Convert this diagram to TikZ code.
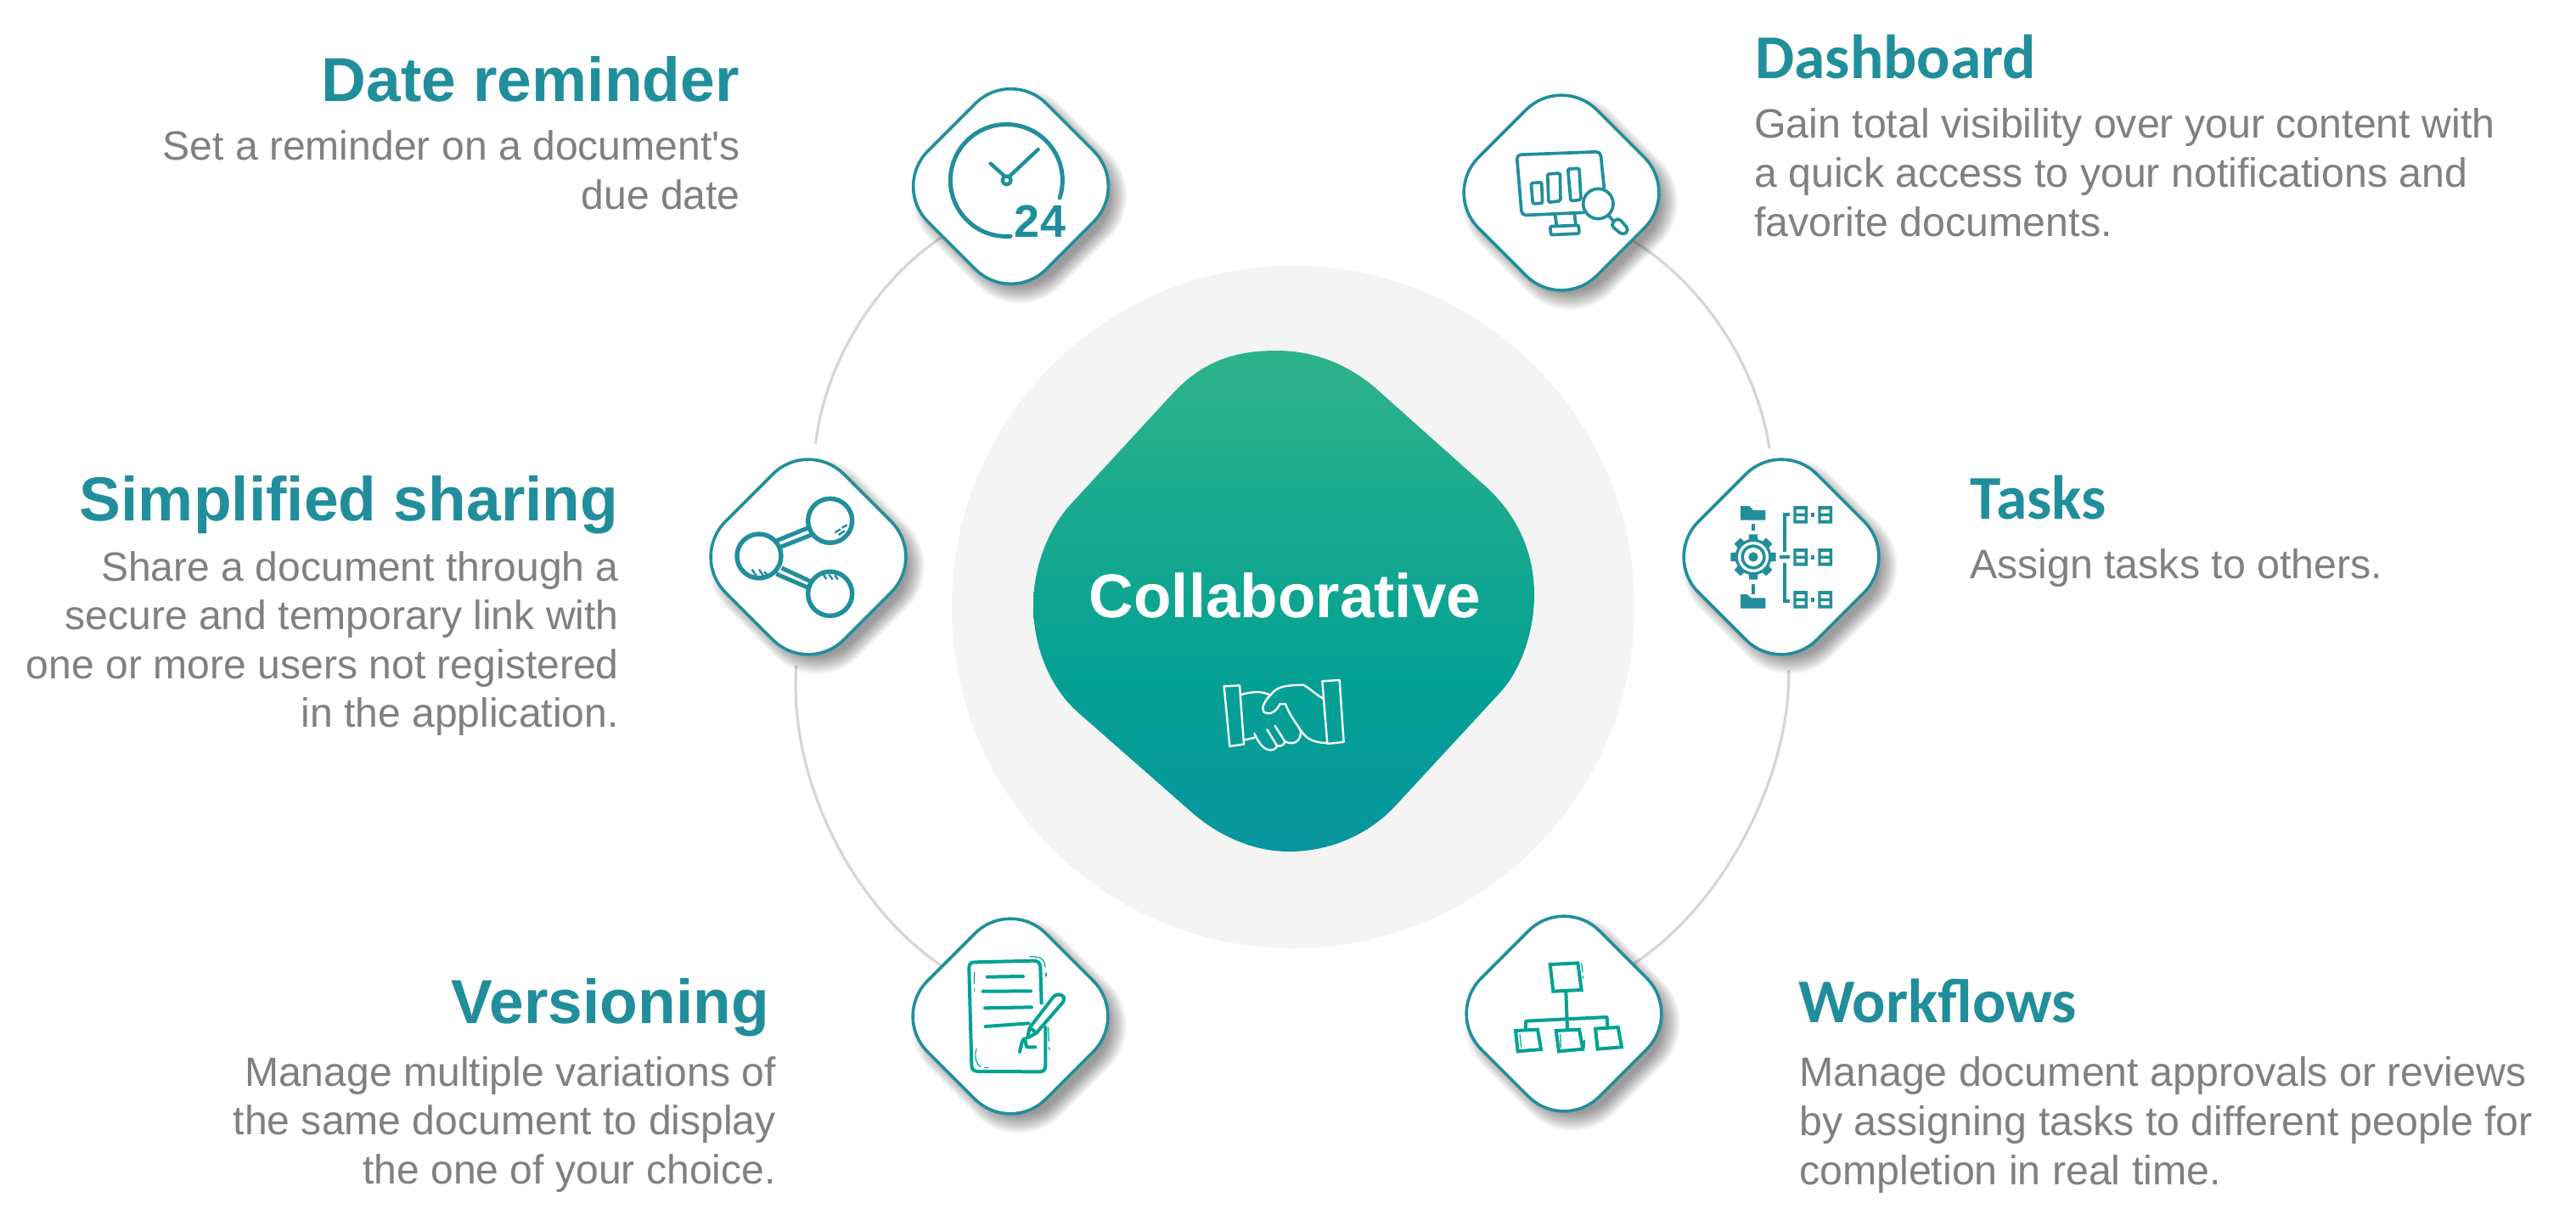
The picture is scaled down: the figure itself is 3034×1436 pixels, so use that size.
\documentclass[tikz,border=0pt]{standalone}
\usepackage{fontspec}
\setmainfont{Liberation Sans}
\newfontfamily\rawsans{Liberation Sans}
\newfontfamily\titlefont{Carlito}
\usetikzlibrary{calc}
\definecolor{teal1}{HTML}{218E9C}
\definecolor{teal2}{HTML}{00A294}
\definecolor{bodygray}{HTML}{808080}
\definecolor{ringgray}{HTML}{D6D6D6}
\definecolor{discgray}{HTML}{F4F4F4}
\definecolor{ctop}{RGB}{46,179,137}
\definecolor{cmid}{RGB}{5,161,148}
\definecolor{cbot}{RGB}{7,150,158}
\pgfdeclareverticalshading{collabshade}{100bp}{color(0bp)=(cbot);color(25bp)=(cbot);color(43bp)=(cmid);color(75bp)=(ctop);color(100bp)=(ctop)}
\pgfdeclarelayer{bg}
\pgfsetlayers{bg,main}
\tikzset{
  x=1pt,y=-1pt,
  diamondbox/.style={draw=teal1,line width=3.6pt,fill=white,shape=rectangle,rotate=45,minimum size=197pt,rounded corners=59pt,inner sep=0pt},
  shadowlayer/.style={fill=black,fill opacity=0.022,draw=none,rotate=45,shape=rectangle,inner sep=0pt},
  ring/.style={draw=ringgray,line width=3.2pt},
  titleleft/.style={text=teal1,inner sep=0pt,anchor=base east,font=\bfseries\fontsize{73.2}{80}\selectfont},
  titleright/.style={text=teal1,inner sep=0pt,anchor=base west,font=\titlefont\bfseries\fontsize{73.4}{80}\selectfont},
  bodyleft/.style={text=bodygray,inner sep=0pt,align=right,anchor=north east,font=\rawsans\fontsize{48.1}{57.6}\selectfont},
  bodyright/.style={text=bodygray,inner sep=0pt,align=left,anchor=north west,font=\rawsans\fontsize{48.3}{58}\selectfont},
  iconA/.style={draw=teal1,line width=5pt,line cap=round,line join=round},
  iconB/.style={draw=teal1,line width=3.7pt,line cap=round,line join=round},
  iconC/.style={draw=teal2,line width=4pt,line cap=round,line join=round},
  iconthin/.style={draw=teal2,line width=1.2pt,line cap=round},
  hand/.style={draw=white,line width=2.4pt,line join=round,line cap=round},
}
\newcommand{\softshadow}[2]{%
  \foreach \s in {0,2,...,36}{
    \node[shadowlayer,minimum size={221pt-\s pt},rounded corners={70pt-\s*0.3pt}] at (#1+10,#2+11) {};
  }
}
\begin{document}
\begin{tikzpicture}
\useasboundingbox (0,0) rectangle (3034,1436);

% central disc
\node[circle,fill=discgray,minimum size=804pt,inner sep=0pt] (disc) at (1523,715) {};

% soft shadows
\softshadow{1190.5}{219.5}
\softshadow{1839}{227}
\softshadow{2098}{656}
\softshadow{952}{656}
\softshadow{1190}{1197}
\softshadow{1842}{1194}

% diamonds
\node[diamondbox] (date) at (1190.5,219.5) {};
\node[diamondbox] (dash) at (1839,227) {};
\node[diamondbox] (tasks) at (2098,656) {};
\node[diamondbox] (share) at (952,656) {};
\node[diamondbox] (vers) at (1190,1197) {};
\node[diamondbox] (work) at (1842,1194) {};

% connectors (behind)
\begin{pgfonlayer}{bg}
\fill[white] (0,0) rectangle (3034,1436);
\draw[ring] (date) to[bend right=25,looseness=.85] (share);
\draw[ring] (share) to[bend right=30,looseness=.85] (vers);
\draw[ring] (dash) to[bend left=25,looseness=.85] (tasks);
\draw[ring] (tasks) to[bend left=29,looseness=.82] (work);
\end{pgfonlayer}

% central rounded diamond
\path[shading=collabshade] (1379.6,465.2)
  .. controls (1418,423) and (1458,413) .. (1504,413)
  .. controls (1550,413) and (1590,431) .. (1620.4,457.3)
  -- (1751,574)
  .. controls (1790,610) and (1807,655) .. (1807,700.5)
  .. controls (1807,745) and (1791,789) .. (1767.3,815.2)
  -- (1644.9,947.6)
  .. controls (1612,984) and (1565,1003) .. (1518.4,1003)
  .. controls (1472,1003) and (1430,981) .. (1400,953.6)
  -- (1269.4,838.9)
  .. controls (1235,808) and (1217,760) .. (1217,712.4)
  .. controls (1217,668) and (1235,622) .. (1261.2,593.8)
  -- cycle;
\node[text=white,inner sep=0pt,anchor=base,font=\bfseries\fontsize{72.8}{80}\selectfont] (collab) at (1513.5,727.5) {Collaborative};

% handshake
\begin{scope}[shift={(1400,770)},scale=1/3]
\draw[hand] (125,115) -- (180,112) -- (195,320) -- (145,327) -- cycle;
\draw[hand] (472,97) -- (533,93) -- (548,312) -- (490,318) -- cycle;
\draw[hand] (475,158) .. controls (450,145) and (425,120) .. (405,110) .. controls (350,112) and (315,112) .. (290,145) .. controls (270,165) and (255,190) .. (265,205) .. controls (285,220) and (310,205) .. (322,178) -- (342,177) .. controls (355,215) and (380,245) .. (395,270) .. controls (415,295) and (425,312) .. (490,316);
\draw[hand] (183,145) .. controls (220,135) and (255,130) .. (285,145);
\draw[hand] (195,305) -- (232,297);
\draw[hand] (232,282) .. controls (245,310) and (265,345) .. (295,340) .. controls (310,335) and (312,330) .. (312,325) -- (277,268);
\draw[hand] (312,325) .. controls (325,330) and (340,320) .. (340,310) -- (305,255);
\draw[hand] (340,310) .. controls (370,325) and (400,310) .. (395,270);
\end{scope}

% Clock icon
\begin{scope}[shift={(1040,80)},scale=1/3]
\draw[iconA] (450,595) arc[start angle=86,end angle=378,radius=198];
\draw[iconA,line width=4.4pt] (427,380) -- (380,338);
\draw[iconA,line width=4.4pt] (448,382) -- (548,288);
\draw[iconA,line width=4.4pt,fill=white] (437,397) circle[radius=15];
\node[text=teal1,inner sep=0pt,anchor=center,font=\fontsize{54}{60}\selectfont\bfseries] (clocknum) at (555,541) {24};
\end{scope}

% Dashboard icon
\begin{scope}[shift={(1700,90)},scale=1/3]
\draw[iconB,rounded corners=5pt] (495,481) -- (277,491) -- (259,277) -- (555,266) -- (568,395);
\draw[iconB,rounded corners=2pt] (310,377) -- (347,374) -- (350,448) -- (316,450) -- cycle;
\draw[iconB,rounded corners=2pt] (368,345) -- (412,342) -- (414,440) -- (372,445) -- cycle;
\draw[iconB,rounded corners=2pt] (440,327) -- (480,325) -- (486,436) -- (450,440) -- cycle;
\draw[iconB] (395,492) -- (400,527);
\draw[iconB] (463,485) -- (468,525);
\draw[iconB,rounded corners=2pt] (377,530) -- (478,526) -- (480,555) -- (380,560) -- cycle;
\draw[iconB] (547,450) circle[radius=53];
\draw[iconB] (584,492) -- (603,513);
\draw[iconB,rounded corners=5pt] (590,525) -- (617,498) -- (657,543) -- (635,562) -- cycle;
\end{scope}

% Tasks icon
\begin{scope}[shift={(1960,520)},scale=1/3]
\fill[teal1] (270,228) -- (300,228) -- (315,243) -- (358,243) -- (358,278) -- (270,278) -- cycle;
\fill[teal1] (270,540) -- (292,540) -- (308,553) -- (358,553) -- (358,590) -- (270,590) -- cycle;
\fill[teal1] (308,290) rectangle (321,315);
\fill[teal1] (308,503) rectangle (321,540);
\foreach \a in {0,45,...,315}{
  \fill[teal1,rotate around={\a:(315,408)}] (300,328) -- (330,328) -- (333,380) -- (297,380) -- cycle;
}
\fill[teal1] (315,408) circle[radius=64];
\fill[white] (315,408) circle[radius=54];
\fill[teal1] (315,408) circle[radius=44];
\fill[white] (315,408) circle[radius=33];
\fill[teal1] (315,408) circle[radius=17];
\draw[teal1,line width=4pt] (443,258) -- (427,258) -- (427,390);
\draw[teal1,line width=4pt] (443,565) -- (427,565) -- (427,428);
\draw[teal1,line width=4pt] (408,408) -- (445,408);
\foreach \yy in {228,378,528}{
  \foreach \xx in {457,544}{
    \begin{scope}[shift={(\xx,\yy)}]
    \fill[teal1,even odd rule] (0,0) rectangle (50,62) (10,12) rectangle (40,26) (10,36) rectangle (40,50);
    \end{scope}
  }
  \begin{scope}[shift={(519,\yy)}]
  \fill[teal1] (0,25) rectangle (13,38);
  \end{scope}
}
\end{scope}

% Share icon
\begin{scope}[shift={(820,520)},scale=1/3]
\draw[draw=teal1,line width=5.4pt] (473,280) circle[radius=78];
\draw[draw=teal1,line width=5.4pt] (222,405) circle[radius=78];
\draw[draw=teal1,line width=5.4pt] (473,538) circle[radius=78];
\draw[draw=teal1,line width=5pt] (398,304) -- (283,351);
\draw[draw=teal1,line width=5pt] (415,327) -- (300,372);
\draw[draw=teal1,line width=5pt] (302,447) -- (410,497);
\draw[draw=teal1,line width=5pt] (283,468) -- (403,520);
\foreach \pa/\pb/\qa/\qb in {490/322/510/310,503/330/525/316,515/305/533/295,197/452/213/476,222/452/238/476,240/460/252/472,450/472/460/486,470/470/482/488,490/472/500/488}{
  \draw[teal1,line width=2.4pt] (\pa,\pb) -- (\qa,\qb);
}
\end{scope}

% Versioning icon
\begin{scope}[shift={(1060,1070)},scale=1/3]
\draw[iconC] (500,335) -- (496,205) .. controls (494,190) and (485,185) .. (470,185) -- (262,190) .. controls (248,190) and (243,200) .. (244,215) -- (253,555) .. controls (254,570) and (262,575) .. (275,576) -- (495,577) .. controls (510,576) and (514,568) .. (514,555) -- (514,420);
\draw[iconC] (308,242) -- (435,240);
\draw[iconC] (293,293) -- (462,292);
\draw[iconC] (300,352) -- (465,349);
\draw[iconC] (302,417) -- (455,406);
\draw[iconC] (450,458) -- (458,422) -- (540,315) .. controls (550,300) and (570,302) .. (578,312) .. controls (582,322) and (578,330) .. (570,338) -- (482,440) -- cycle;
\draw[iconC] (460,422) -- (482,440);
\draw[iconC] (423,507) .. controls (428,485) and (432,462) .. (440,460) .. controls (446,470) and (444,492) .. (450,490) -- (478,490);
\draw[iconthin] (458,170) .. controls (490,170) and (512,175) .. (513,207);
\draw[iconthin] (516,228) -- (516,240);
\draw[iconthin] (524,420) -- (526,470);
\draw[iconthin] (526,490) -- (528,500);
\draw[iconthin] (270,497) .. controls (262,520) and (268,550) .. (285,560);
\draw[iconthin] (300,562) -- (312,563);
\draw[iconthin] (263,225) -- (262,265);
\draw[iconthin] (263,285) -- (263,292);
\end{scope}

% Workflow icon
\begin{scope}[shift={(1710,1070)},scale=1/3]
\draw[iconC,line join=miter] (347,198) -- (445,193) -- (458,288) -- (358,293) -- cycle;
\draw[iconC] (403,295) -- (408,425);
\draw[iconC] (260,425) -- (262,398) -- (548,384) -- (550,418);
\draw[iconC,line join=miter] (225,432) -- (303,428) -- (315,498) -- (233,505) -- cycle;
\draw[iconC,line join=miter] (368,432) -- (450,428) -- (463,497) -- (378,505) -- cycle;
\draw[iconC,line join=miter] (507,425) -- (587,420) -- (600,490) -- (515,497) -- cycle;
\draw[iconthin] (458,195) -- (462,225);
\draw[iconthin] (463,240) -- (464,247);
\draw[iconthin] (240,445) -- (245,490);
\draw[iconthin] (383,445) -- (385,490);
\draw[iconthin] (468,465) -- (468,490);
\end{scope}

% Left text
\node[titleleft] (t1) at (871,119) {Date reminder};
\node[bodyleft] (b1) at (872,153.5) {Set a reminder on a document's\\due date};
\node[titleleft] (t2) at (728.5,613) {Simplified sharing};
\node[bodyleft] (b2) at (729,649) {Share a document through a\\secure and temporary link with\\one or more users not registered\\in the application.};
\node[titleleft] (t3) at (906,1205) {Versioning};
\node[bodyleft] (b3) at (914,1244) {Manage multiple variations of\\the same document to display\\the one of your choice.};

% Right text
\node[titleright] (t4) at (2067,92.7) {Dashboard};
\node[bodyright] (b4) at (2066,127.5) {Gain total visibility over your content with\\a quick access to your notifications and\\favorite documents.};
\node[titleright] (t5) at (2320,611) {Tasks};
\node[bodyright] (b5) at (2320,646) {Assign tasks to others.};
\node[titleright] (t6) at (2118,1204) {Workflows};
\node[bodyright] (b6) at (2119,1244) {Manage document approvals or reviews\\by assigning tasks to different people for\\completion in real time.};
\end{tikzpicture}
\end{document}
